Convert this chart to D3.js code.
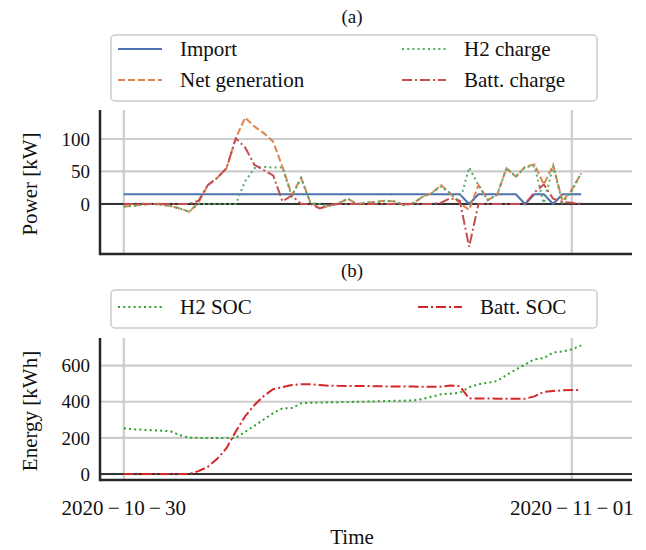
<!DOCTYPE html>
<html>
<head>
<meta charset="utf-8">
<script src="https://cdn.jsdelivr.net/npm/d3@7"></script>
<style>
  body { margin: 0; background: #fff; }
  text { font-family: "Liberation Serif", "DejaVu Serif", serif; fill: #111; }
</style>
</head>
<body>
<script>
// hours after 2020-10-30 00:00
const hours = [0,1,2,3,4,5,6,7,8,9,10,11,12,13,14,15,16,17,18,19,20,21,22,23,24,
  25,26,27,28,29,30,31,32,33,34,35,36,37,38,39,40,41,42,43,44,45,46,47,48,49];

// (a) power, kW
const importKW = [15,15,15,15,15,15,15,15,15,15,15,15,15,15,15,15,15,15,15,15,15,15,15,15,15,
  15,15,15,15,15,15,15,15,15,15,15,15,0,15,15,15,15,15,0,15,15,0,15,15,15];
const netGen = [-4,-3,-1,0,-1,-3,-7,-12,2,29,40,55,101,133,119,109,96,57,14,40,2,-7,-3,1,8,
  0,2,3,5,4,-2,1,11,17,29,16,1,-9,29,6,14,55,42,57,61,30,60,4,22,47];
const h2Charge = [-4,-3,-1,0,-1,-3,-7,-12,0,0,0,0,0,35,55,57,56,56,12,40,1,0,-3,1,8,
  0,2,3,5,4,-2,1,11,17,27,16,3,56,29,6,14,55,42,57,58,1,58,2,20,47];
const battCharge = [0,0,0,0,0,0,0,0,5,29,40,55,101,87,60,52,44,4,13,0,0,-7,-1,0,0,
  0,0,0,0,0,0,0,0,0,2,9,5,-66,0,0,0,0,0,0,18,30,8,3,2,0];

// (b) energy, kWh
const h2Soc = [253,248,245,243,240,237,215,201,200,200,200,200,200,234,267,302,337,364,365,392,394,396,397,398,399,
  400,401,402,404,405,406,408,415,428,442,445,450,480,497,505,515,548,578,607,635,642,673,678,690,712];
const battSoc = [0,0,0,0,0,0,0,0,16,40,84,143,235,320,382,432,470,481,493,497,497,493,489,488,488,
  488,487,486,485,484,484,484,483,483,484,490,486,419,418,418,417,417,417,417,430,455,460,463,465,465];

const xTickDates = ['2020-10-30', '2020-11-01'];
const powerTicks = [0, 50, 100];
const energyTicks = [0, 200, 400, 600];

const startTime = Date.UTC(2020, 9, 30);
const times = hours.map(h => new Date(startTime + h * 3600e3));

const svg = d3.select('body').append('svg')
  .attr('width', 646)
  .attr('height', 550);

const x = d3.scaleUtc()
  .domain([new Date(startTime - 2.55 * 3600e3), new Date(startTime + 54.45 * 3600e3)])
  .range([100, 632]);

const yPower = d3.scaleLinear().domain([-77, 144.6]).range([254, 110]);
const yEnergy = d3.scaleLinear().domain([-33, 753]).range([480, 338]);

const styles = {
  solid: null,
  dashed: '7,3',
  dotted: '2,3.2',
  dashdot: '10,3,2,3'
};

function drawPanel(y, ticks, series, label) {
  const top = y.range()[1], bottom = y.range()[0];
  const g = svg.append('g');

  // grid
  g.selectAll('.hgrid').data(ticks).enter().append('line')
    .attr('x1', 100).attr('x2', 632)
    .attr('y1', d => y(d)).attr('y2', d => y(d))
    .attr('stroke', '#cccccc').attr('stroke-width', 2.2);
  g.selectAll('.vgrid').data(xTickDates).enter().append('line')
    .attr('x1', d => x(new Date(d))).attr('x2', d => x(new Date(d)))
    .attr('y1', top).attr('y2', bottom)
    .attr('stroke', '#cccccc').attr('stroke-width', 2.2);

  // zero line
  g.append('line')
    .attr('x1', 100).attr('x2', 632)
    .attr('y1', y(0)).attr('y2', y(0))
    .attr('stroke', 'black').attr('stroke-width', 1.6);

  const line = d3.line()
    .x((d, i) => x(times[i]))
    .y(d => y(d));

  series.forEach(s => {
    g.append('path')
      .attr('d', line(s.values))
      .attr('fill', 'none')
      .attr('stroke', s.color)
      .attr('stroke-width', 2)
      .attr('stroke-dasharray', styles[s.style]);
  });

  // spines
  g.append('line').attr('x1', 100).attr('x2', 100).attr('y1', top).attr('y2', bottom + 1.2)
    .attr('stroke', '#262626').attr('stroke-width', 2.5);
  g.append('line').attr('x1', 100).attr('x2', 632).attr('y1', bottom).attr('y2', bottom)
    .attr('stroke', '#262626').attr('stroke-width', 2.5);

  // y tick labels
  g.selectAll('.ytick').data(ticks).enter().append('text')
    .attr('x', 90)
    .attr('y', d => y(d))
    .attr('dy', '0.35em')
    .attr('text-anchor', 'end')
    .style('font-size', '19px')
    .text(d => d);

  g.append('text')
    .attr('transform', 'translate(30,' + ((top + bottom) / 2 + 2) + ') rotate(-90)')
    .attr('text-anchor', 'middle')
    .attr('dy', '0.35em')
    .style('font-size', '21px')
    .text(label);
}

function drawLegend(entries, box, rowY, cols) {
  svg.append('rect')
    .attr('x', box[0]).attr('y', box[1])
    .attr('width', box[2]).attr('height', box[3])
    .attr('rx', 4)
    .attr('fill', 'white')
    .attr('stroke', '#cccccc')
    .attr('stroke-width', 1.5);
  entries.forEach((e, i) => {
    const cx = cols[Math.floor(i / rowY.length)];
    const cy = rowY[i % rowY.length];
    svg.append('line')
      .attr('x1', cx).attr('x2', cx + 44)
      .attr('y1', cy).attr('y2', cy)
      .attr('stroke', e.color)
      .attr('stroke-width', 2)
      .attr('stroke-dasharray', styles[e.style]);
    svg.append('text')
      .attr('x', cx + 62)
      .attr('y', cy)
      .attr('dy', '0.32em')
      .style('font-size', '21px')
      .text(e.name);
  });
}

const powerSeries = [
  { name: 'Import', values: importKW, color: '#4c72b0', style: 'solid' },
  { name: 'Net generation', values: netGen, color: '#dd8452', style: 'dashed' },
  { name: 'H2 charge', values: h2Charge, color: '#55a868', style: 'dotted' },
  { name: 'Batt. charge', values: battCharge, color: '#c44e52', style: 'dashdot' }
];
const energySeries = [
  { name: 'H2 SOC', values: h2Soc, color: '#2ca02c', style: 'dotted' },
  { name: 'Batt. SOC', values: battSoc, color: '#d62728', style: 'dashdot' }
];

drawPanel(yPower, powerTicks, powerSeries, 'Power [kW]');
drawPanel(yEnergy, energyTicks, energySeries, 'Energy [kWh]');

// x tick labels, only under the bottom panel
svg.selectAll('.xtick').data(xTickDates).enter().append('text')
  .attr('x', d => x(new Date(d)))
  .attr('y', 508)
  .attr('dy', '0.35em')
  .attr('text-anchor', 'middle')
  .style('font-size', '21px')
  .text(d => d.split('-').join('\u2009\u2212\u2009'));

svg.append('text')
  .attr('x', 352).attr('y', 537).attr('dy', '0.35em')
  .attr('text-anchor', 'middle')
  .style('font-size', '21px')
  .text('Time');

svg.append('text').attr('x', 352).attr('y', 16).attr('dy', '0.35em')
  .attr('text-anchor', 'middle').style('font-size', '19px').text('(a)');
svg.append('text').attr('x', 352).attr('y', 270).attr('dy', '0.35em')
  .attr('text-anchor', 'middle').style('font-size', '19px').text('(b)');

drawLegend(powerSeries, [111, 35, 486, 66], [49, 80], [118, 402]);
drawLegend(energySeries, [111, 290, 486, 38], [307], [118, 418]);
</script>
</body>
</html>
